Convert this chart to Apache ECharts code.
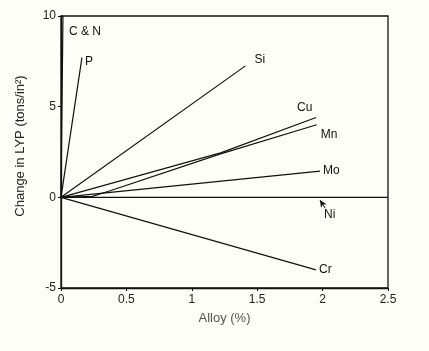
<!DOCTYPE html>
<html>
<head>
<meta charset="utf-8">
<script src="https://cdn.jsdelivr.net/npm/echarts@6/dist/echarts.min.js"></script>
<style>
  html, body { margin: 0; padding: 0; background: #fefef8; }
  #chart { width: 429px; height: 351px; }
</style>
</head>
<body>
<div id="chart"></div>
<script>
// alloy content (%) vs change in lower yield point (tons/in^2)
const xTicks = [0, 0.5, 1, 1.5, 2, 2.5];
const yTicks = [-5, 0, 5, 10];

const cnData = [[0, 0], [0.015, 10]];
const pData = [[0, 0], [0.16, 7.7]];
const siData = [[0, 0], [1.41, 7.25]];
const cuData = [[0, 0], [1.22, 2.45], [1.95, 4.4]];
const mnData = [[0, 0], [0.24, 0.05], [0.37, 0.35], [1.22, 2.4], [1.955, 4.0]];
const moData = [[0, 0], [1.98, 1.45]];
const niData = [[0, 0], [2.5, 0]];
const crData = [[0, 0], [1.95, -4.0]];

const chart = echarts.init(document.getElementById("chart"));

const lineStyle = { color: "#111", width: 1.2 };
const labelFont = { color: "#111", fontSize: 12, fontFamily: "Liberation Sans" };

function line(name, data, label) {
  return {
    name,
    type: "line",
    symbol: "none",
    silent: true,
    lineStyle,
    data,
    // element name at the end of each line
    endLabel: Object.assign({ show: true, formatter: name }, labelFont, label),
  };
}

const series = [
  line("C & N", cnData, { offset: [-2, 16] }),
  line("P", pData, { offset: [3, 4], distance: 0 }),
  line("Si", siData, { offset: [1, -6] }),
  line("Cu", cuData, { offset: [-27, -10] }),
  line("Mn", mnData, { offset: [-4, 10] }),
  line("Mo", moData, { distance: 3 }),
  line("Cr", crData, { distance: 3 }),
  {
    name: "Ni",
    type: "line",
    symbol: "none",
    silent: true,
    lineStyle,
    data: niData,
    markLine: {
      silent: true,
      symbol: ["arrow", "none"],
      symbolSize: [5, 7],
      lineStyle: { color: "#111", width: 1, type: "solid" },
      label: { show: true, position: "end", formatter: "Ni", distance: 1, ...labelFont, padding: [0, 0, 0, 8] },
      data: [[{ coord: [1.98, -0.15] }, { coord: [2.02, -0.6] }]],
    },
  },
];

chart.setOption({
  backgroundColor: "#fefef8",
  animation: false,
  grid: {
    left: 61,
    right: 41,
    top: 16,
    bottom: 63,
    show: true,
    borderColor: "#111",
    borderWidth: 1.3,
  },
  xAxis: {
    type: "value",
    min: xTicks[0],
    max: xTicks[xTicks.length - 1],
    interval: 0.5,
    name: "Alloy (%)",
    nameLocation: "middle",
    nameGap: 24,
    nameTextStyle: { color: "#555", fontSize: 13, fontFamily: "Liberation Sans" },
    axisLine: { onZero: false, lineStyle: { color: "#111", width: 1.3 } },
    axisTick: { length: 3, lineStyle: { color: "#111" } },
    axisLabel: { color: "#222", fontSize: 12, margin: 6, fontFamily: "Liberation Sans" },
    splitLine: { show: false },
  },
  yAxis: {
    type: "value",
    min: yTicks[0],
    max: yTicks[yTicks.length - 1],
    interval: 5,
    name: "Change in LYP (tons/in²)",
    nameLocation: "middle",
    nameGap: 34,
    nameTextStyle: { color: "#222", fontSize: 13, fontFamily: "Liberation Sans", padding: [0, 0, 0, 12] },
    axisLine: { onZero: false, lineStyle: { color: "#111", width: 1.3 } },
    axisTick: { length: 3, lineStyle: { color: "#111" } },
    axisLabel: { color: "#222", fontSize: 12, margin: 5, fontFamily: "Liberation Sans" },
    splitLine: { show: false },
  },
  series,
});

window.addEventListener("resize", () => chart.resize());
</script>
</body>
</html>
